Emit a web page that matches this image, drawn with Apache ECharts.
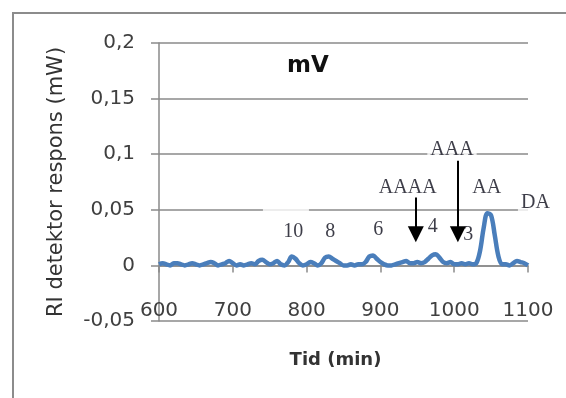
<!DOCTYPE html>
<html>
<head>
<meta charset="utf-8">
<script src="https://cdn.jsdelivr.net/npm/echarts@6/dist/echarts.min.js"></script>
<style>
  html, body { margin: 0; padding: 0; background: #fff; }
  #chart { width: 566px; height: 398px; }
</style>
</head>
<body>
<div id="chart"></div>
<script>
// RI detector trace, sampled every 5 minutes (mV)
const times = [
  600, 605, 610, 615, 620, 625, 630, 635, 640, 645,
  650, 655, 660, 665, 670, 675, 680, 685, 690, 695,
  700, 705, 710, 715, 720, 725, 730, 735, 740, 745,
  750, 755, 760, 765, 770, 775, 780, 785, 790, 795,
  800, 805, 810, 815, 820, 825, 830, 835, 840, 845,
  850, 855, 860, 865, 870, 875, 880, 885, 890, 895,
  900, 905, 910, 915, 920, 925, 930, 935, 940, 945,
  950, 955, 960, 965, 970, 975, 980, 985, 990, 995,
  1000, 1005, 1010, 1015, 1020, 1025, 1030, 1035, 1040, 1045,
  1050, 1055, 1060, 1065, 1070, 1075, 1080, 1085, 1090, 1095,
  1100
];
const response = [
  0.001, 0.002, 0.001, 0.000, 0.002, 0.002, 0.001, 0.000, 0.001, 0.002,
  0.001, 0.000, 0.001, 0.002, 0.003, 0.002, 0.000, 0.001, 0.002, 0.004,
  0.002, 0.000, 0.001, 0.000, 0.001, 0.002, 0.001, 0.004, 0.005, 0.003,
  0.001, 0.002, 0.004, 0.001, 0.000, 0.003, 0.008, 0.006, 0.002, 0.000,
  0.001, 0.003, 0.002, 0.000, 0.002, 0.007, 0.008, 0.006, 0.004, 0.002,
  0.000, 0.000, 0.001, 0.000, 0.001, 0.001, 0.003, 0.008, 0.009, 0.006,
  0.003, 0.001, 0.000, 0.000, 0.001, 0.002, 0.003, 0.004, 0.002, 0.002,
  0.003, 0.002, 0.003, 0.006, 0.009, 0.010, 0.007, 0.003, 0.002, 0.003,
  0.001, 0.001, 0.002, 0.001, 0.002, 0.001, 0.002, 0.013, 0.034, 0.047,
  0.045, 0.027, 0.008, 0.001, 0.001, 0.000, 0.002, 0.004, 0.003, 0.002,
  0.000
];

// Peak annotations (time, response) and their texts
const annotText = ['10', '8', '6', 'AAAA', '4', 'AAA', '3', 'AA', 'DA', '        '];
const annotX    = [782, 832, 897, 937, 971, 997, 1019, 1044, 1110, 772];
const annotY    = [0.030, 0.030, 0.032, 0.070, 0.035, 0.104, 0.028, 0.070, 0.056, 0.050];

// Arrows pointing down to the shoulders
const arrowX    = [948, 1005];
const arrowFrom = [0.061, 0.094];
const arrowTo   = [0.028, 0.028];

// Axis ticks
const xMin = 600, xMax = 1100, xStep = 100;
const yMin = -0.05, yMax = 0.2, yStep = 0.05;

const axisGrey = '#8a8a8a';
const labelGrey = '#3f3f3f';
const sans = '"DejaVu Sans", sans-serif';
const serif = '"Liberation Serif", serif';

const chartHeight = 398;
const gridTop = 43, gridBottom = 77;
// The time axis crosses the response axis at zero: lift it from the grid bottom
const plotHeight = chartHeight - gridTop - gridBottom;
const zeroOffset = -plotHeight * (0 - yMin) / (yMax - yMin);

const chart = echarts.init(document.getElementById('chart'), null, { renderer: 'canvas' });

chart.setOption({
  animation: false,
  backgroundColor: '#fff',
  graphic: [{
    type: 'rect',
    shape: { x: 13, y: 13, width: 700, height: 500 },
    style: { fill: 'none', stroke: '#8c8c8c', lineWidth: 2 },
    silent: true
  }, {
    type: 'text',
    x: 287, y: 66,
    style: { text: 'mV', font: 'bold 23px ' + sans, fill: '#111', textAlign: 'left', textVerticalAlign: 'middle' }
  }],
  grid: { left: 159, right: 38, top: gridTop, bottom: gridBottom, outerBoundsMode: 'none', containLabel: false },
  xAxis: {
    type: 'value',
    min: xMin, max: xMax, interval: xStep,
    offset: zeroOffset,
    name: 'Tid (min)',
    nameLocation: 'middle',
    nameGap: 86,
    nameTextStyle: { fontFamily: sans, fontSize: 18, fontWeight: 'bold', color: '#333', padding: [0, 16, 0, 0] },
    axisLine: { onZero: false, lineStyle: { color: axisGrey, width: 1.5 } },
    axisTick: { show: true, length: 7, inside: false, lineStyle: { color: axisGrey, width: 1.5 } },
    axisLabel: {
      margin: 35, fontFamily: sans, fontSize: 20, color: labelGrey,
      showMinLabel: true, showMaxLabel: true,
      formatter: v => String(v)
    },
    splitLine: { show: false }
  },
  yAxis: {
    type: 'value',
    min: yMin, max: yMax, interval: yStep,
    name: 'RI detektor respons (mW)',
    nameLocation: 'middle',
    nameGap: 92,
    nameTextStyle: { fontFamily: sans, fontSize: 21, color: '#333' },
    axisLine: { show: true, lineStyle: { color: axisGrey, width: 1.5 } },
    axisTick: { show: true, length: 8, inside: false, lineStyle: { color: axisGrey, width: 1.5 } },
    axisLabel: {
      margin: 24, fontFamily: sans, fontSize: 20, color: labelGrey,
      formatter: v => String(+v.toFixed(2)).replace('.', ',')
    },
    splitLine: { show: true, lineStyle: { color: axisGrey, width: 1.5 } }
  },
  series: [{
    name: 'mV',
    type: 'line',
    data: times.map((t, i) => [t, response[i]]),
    showSymbol: false,
    smooth: 0.35,
    lineStyle: { color: '#4a7ebb', width: 4.5 },
    z: 3
  }, {
    name: 'peaks',
    type: 'scatter',
    clip: false,
    symbolSize: 0,
    data: annotText.map((s, i) => ({ value: [annotX[i], annotY[i]], name: s })),
    label: {
      show: true,
      position: 'inside',
      formatter: p => p.name,
      fontFamily: serif,
      fontSize: 20,
      color: '#0d0d1a',
      backgroundColor: '#fff',
      padding: [1, 3, 1, 3]
    },
    z: 4
  }, {
    name: 'arrows',
    type: 'line',
    data: [],
    markLine: {
      silent: true,
      symbol: ['none', 'triangle'],
      symbolSize: 16,
      label: { show: false },
      lineStyle: { color: '#000', width: 2, type: 'solid' },
      data: arrowX.map((x, i) => [{ coord: [x, arrowFrom[i]] }, { coord: [x, arrowTo[i]] }])
    },
    z: 5
  }]
});
</script>
</body>
</html>
